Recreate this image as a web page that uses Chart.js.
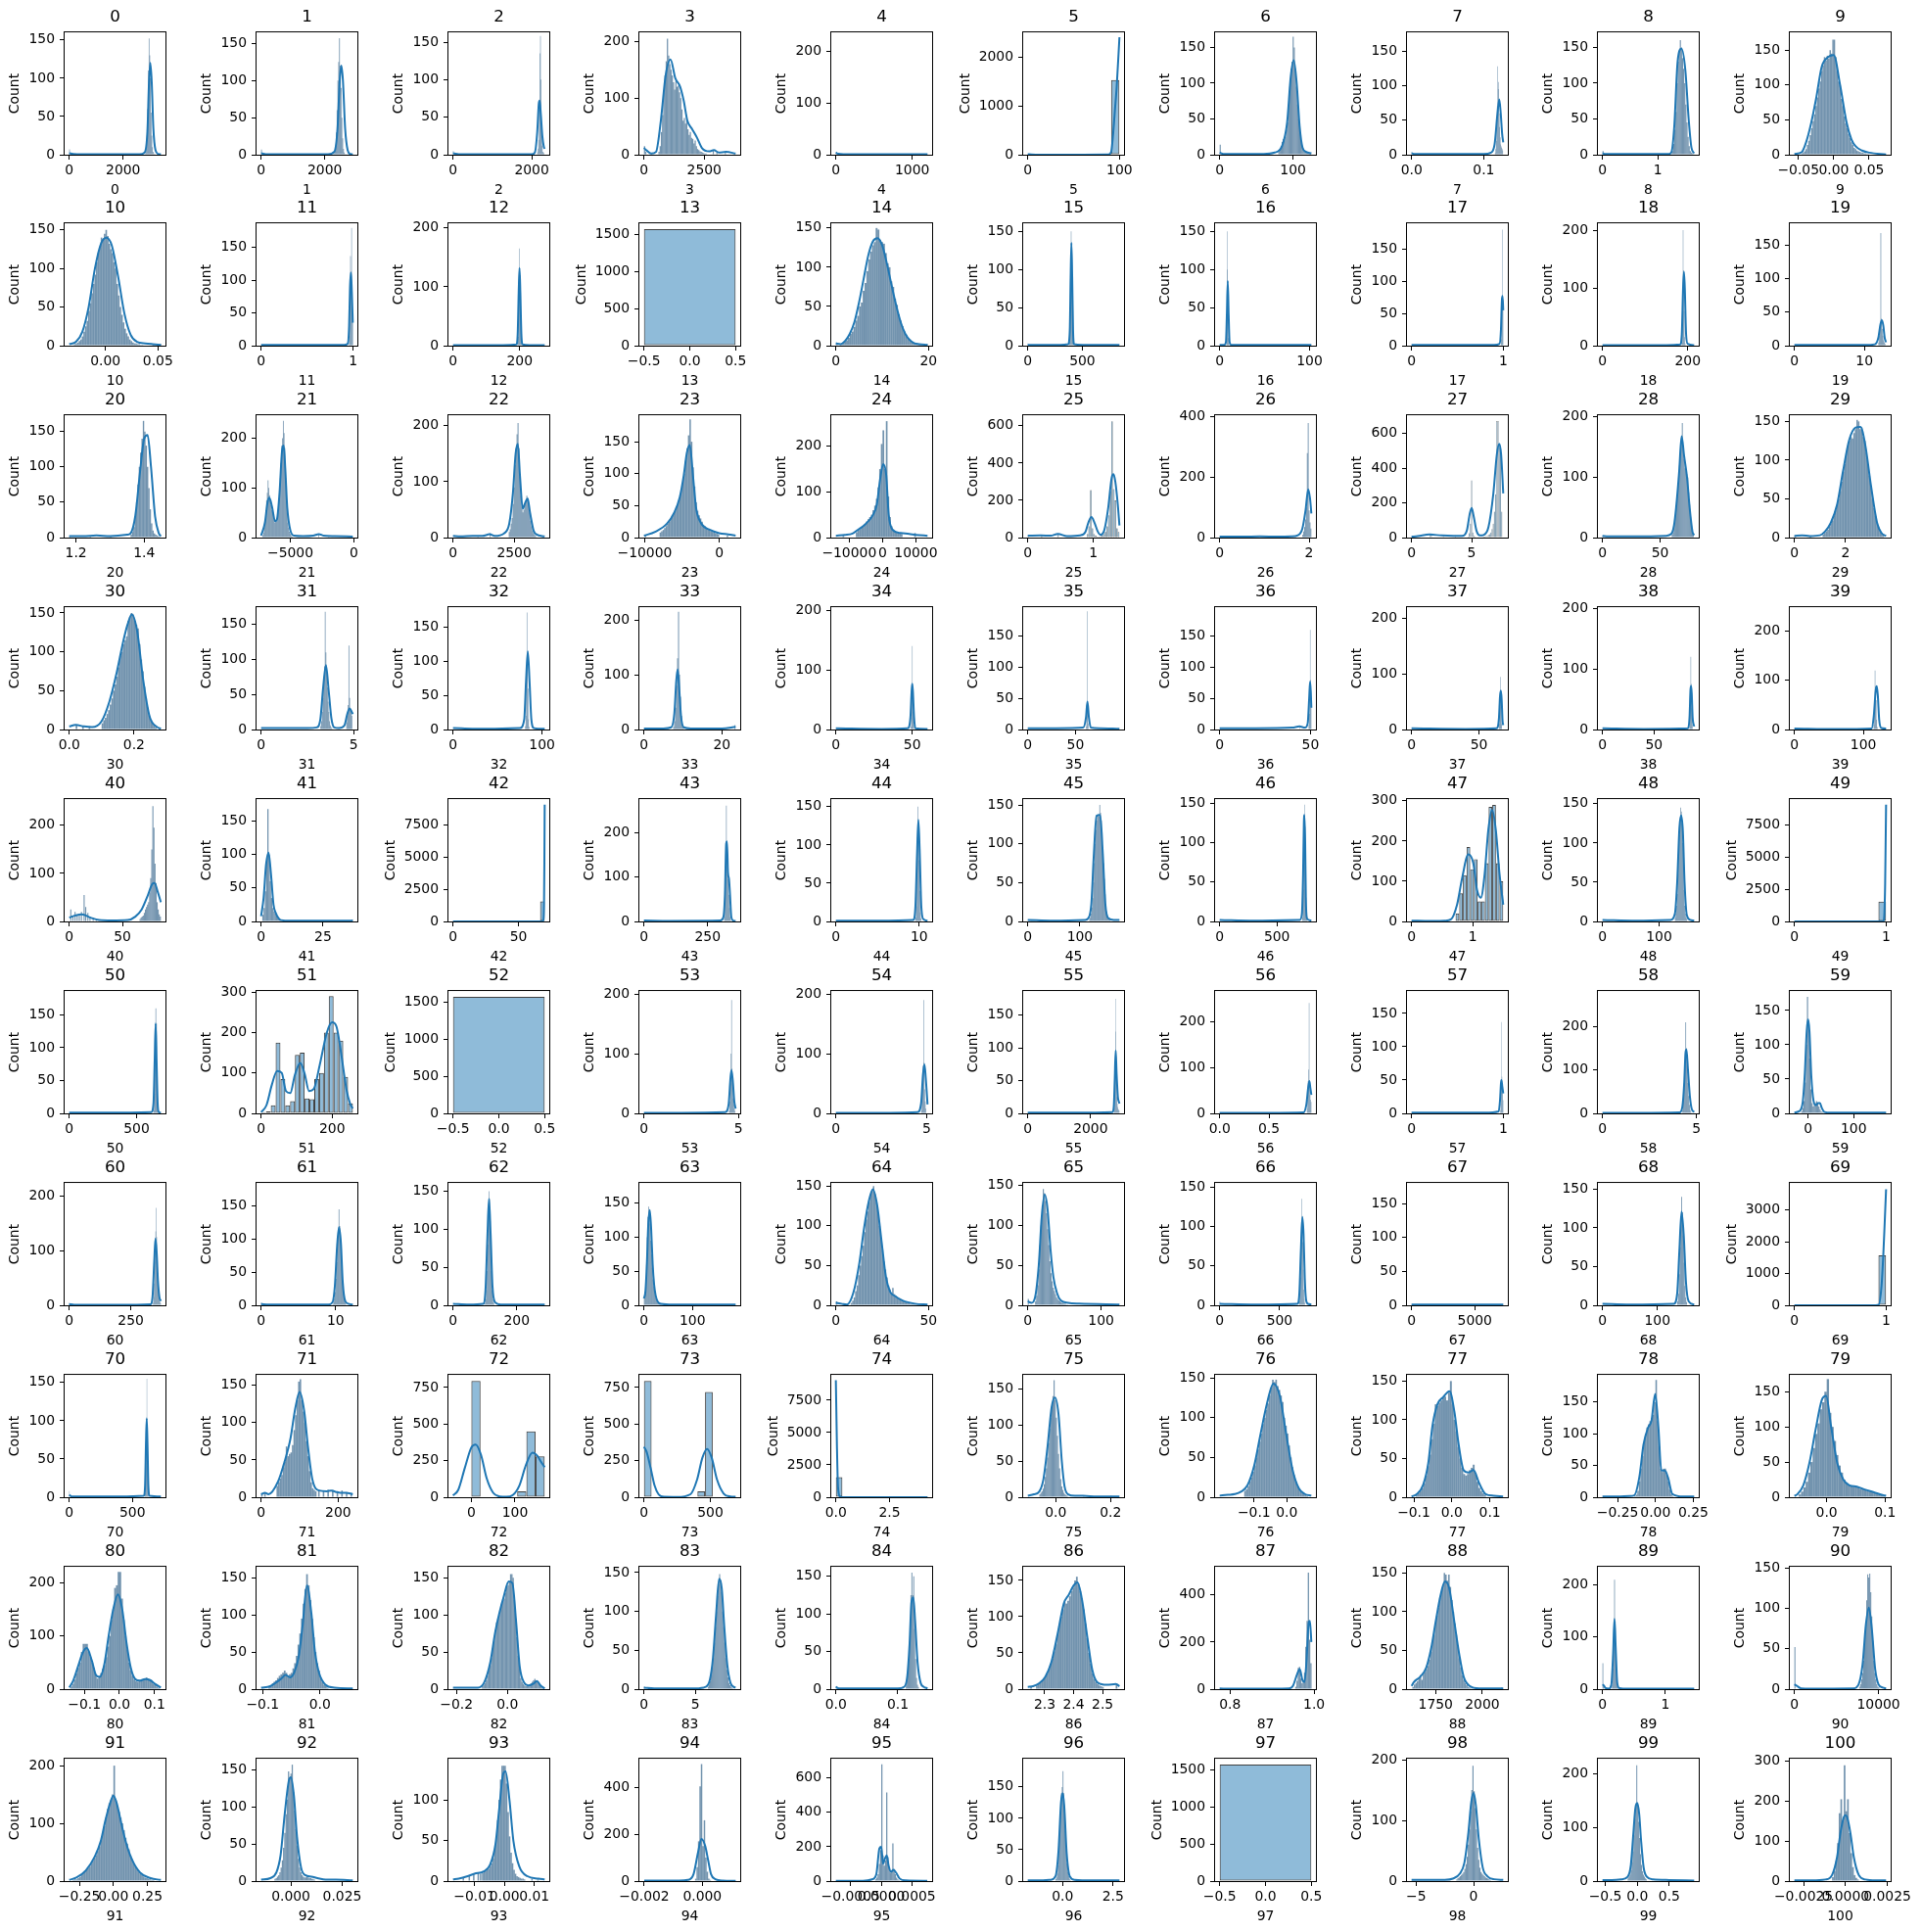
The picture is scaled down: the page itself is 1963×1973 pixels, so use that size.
<!DOCTYPE html>
<html>
<head>
<meta charset="utf-8">
<script src="https://cdn.jsdelivr.net/npm/chart.js@4.4.1/dist/chart.umd.min.js"></script>
<style>
  body { margin: 0; background: #fff; }
  #fig { position: relative; width: 1963px; height: 1973px; background: #fff; overflow: hidden; }
  #fig canvas { position: absolute; }
</style>
</head>
<body>
<div id="fig"></div>
<script>
// one histogram (+ kde) per column of the data frame; column 85 is absent
const titles = [0,1,2,3,4,5,6,7,8,9,10,11,12,13,14,15,16,17,18,19,20,21,22,23,24,25,26,27,28,29,
  30,31,32,33,34,35,36,37,38,39,40,41,42,43,44,45,46,47,48,49,50,51,52,53,54,55,56,57,58,59,
  60,61,62,63,64,65,66,67,68,69,70,71,72,73,74,75,76,77,78,79,80,81,82,83,84,86,87,88,89,90,
  91,92,93,94,95,96,97,98,99,100];

// data range of each column (kde is cut at these)
const lo = [0,0,0,0,0,0,0,0,0,-0.0556,
  -0.0345,0,0,-0.5,0,0,0,0,0,0,
  1.18,-7300,0,-10100,-14000,0,0,0,0,0,
  0,0,0,0,0,0,0,0,0,0,
  0,0,0,0,0,0,0,0,0,0,
  0,0,-0.5,0,0,0,0,0,0,-30,
  0,0,0,0,0,0,0,0,0,0,
  0,0,-42,0,0,-0.1023,-0.205,-0.106,-0.35,-0.0553,
  -0.1434,-0.1028,-0.2132,0,0,2.2416,0.7753,1621,0,0,
  -0.325,-0.0145,-0.0172,-0.002009,-0.00074,-1.73,-0.5,-5.39,-0.5435,-0.00305];
const hi = [3400,2880,2330,3800,1200,100,125,0.127,1.66,0.074,
  0.0528,0.995,275,0.5,19.8,840,102,1,215,13.1,
  1.449,-80,3750,2200,13500,1.4,2.05,7.63,79.5,3.58,
  0.283,4.95,103,23.5,60,96,50.5,68,89,133,
  86,37,70,360,11,176,800,1.5,162,1,
  680,258,0.5,4.85,5.05,2920,0.93,1,4.88,171,
  372,12.3,288,189,49.5,125,765,7250,167,1,
  725,238,168,690,4.27,0.2325,0.075,0.1354,0.256,0.1017,
  0.1184,0.0576,0.146,8.9,0.148,2.558,0.9935,2112,1.46,10900,
  0.349,0.0302,0.0135,0.001148,0.000755,2.82,0.5,2.58,0.89,0.00243];

const xTickLabels = [
  ['0','2000'],['0','2000'],['0','2000'],['0','2500'],['0','1000'],['0','100'],['0','100'],['0.0','0.1'],['0','1'],['−0.05','0.00','0.05'],
  ['0.00','0.05'],['0','1'],['0','200'],['−0.5','0.0','0.5'],['0','20'],['0','500'],['0','100'],['0','1'],['0','200'],['0','10'],
  ['1.2','1.4'],['−5000','0'],['0','2500'],['−10000','0'],['−10000','0','10000'],['0','1'],['0','2'],['0','5'],['0','50'],['0','2'],
  ['0.0','0.2'],['0','5'],['0','100'],['0','20'],['0','50'],['0','50'],['0','50'],['0','50'],['0','50'],['0','100'],
  ['0','50'],['0','25'],['0','50'],['0','250'],['0','10'],['0','100'],['0','500'],['0','1'],['0','100'],['0','1'],
  ['0','500'],['0','200'],['−0.5','0.0','0.5'],['0','5'],['0','5'],['0','2000'],['0.0','0.5'],['0','1'],['0','5'],['0','100'],
  ['0','250'],['0','10'],['0','200'],['0','100'],['0','50'],['0','100'],['0','500'],['0','5000'],['0','100'],['0','1'],
  ['0','500'],['0','200'],['0','100'],['0','500'],['0.0','2.5'],['0.0','0.2'],['−0.1','0.0'],['−0.1','0.0','0.1'],['−0.25','0.00','0.25'],['0.0','0.1'],
  ['−0.1','0.0','0.1'],['−0.1','0.0'],['−0.2','0.0'],['0','5'],['0.0','0.1'],['2.3','2.4','2.5'],['0.8','1.0'],['1750','2000'],['0','1'],['0','10000'],
  ['−0.25','0.00','0.25'],['0.000','0.025'],['−0.01','0.00','0.01'],['−0.002','0.000'],['−0.0005','0.0000','0.0005'],['0.0','2.5'],['−0.5','0.0','0.5'],['−5','0'],['−0.5','0.0','0.5'],['−0.0025','0.0000','0.0025']];

// top of the count axis
const yTop = [160,165,163,216,236,2520,171,177,171,175.5,
  158.5,187,208,1650,156,160.7,160.7,190,212,182.4,
  173,246,219,191.5,268,657,406,704,203,158,
  157.5,174.7,180,223.5,205.5,196.6,196.6,220.5,202,249,
  254.6,183,9479,275,160,157.6,155,304.5,156,9479,
  186.5,302.7,1650,205,205,187,266,183.6,282,178.5,
  223.6,185,161,179.8,154,152.7,155,180.4,158,3847,
  160,164,836,836,9464,169.4,154,158,193,174,
  229.7,164.9,164.9,157.5,162.8,168.7,520,158,235,151.4,
  212,165,150.6,523,712,195,1650,201.6,227.4,306.5];

const Y50 = ['0','50','100','150'];
const Y100 = ['0','100','200'];
const yTickLabels = [
  Y50,Y50,Y50,Y100,Y100,['0','1000','2000'],Y50,Y50,Y50,Y50,
  Y50,Y50,Y100,['0','500','1000','1500'],Y50,Y50,Y50,Y50,Y100,Y50,
  Y50,Y100,Y100,Y50,Y100,['0','200','400','600'],['0','200','400'],['0','200','400','600'],Y100,Y50,
  Y50,Y50,Y50,Y100,Y100,Y50,Y50,Y100,Y100,Y100,
  Y100,Y50,['0','2500','5000','7500'],Y100,Y50,Y50,Y50,['0','100','200','300'],Y50,['0','2500','5000','7500'],
  Y50,['0','100','200','300'],['0','500','1000','1500'],Y100,Y100,Y50,Y100,Y50,Y100,Y50,
  Y100,Y50,Y50,Y50,Y50,Y50,Y50,Y50,Y50,['0','1000','2000','3000'],
  Y50,Y50,['0','250','500','750'],['0','250','500','750'],['0','2500','5000','7500'],Y50,Y50,Y50,Y50,Y50,
  Y100,Y50,Y50,Y50,Y50,Y50,['0','200','400'],Y50,Y100,Y50,
  Y100,Y50,['0','50','100'],['0','200','400'],['0','200','400','600'],Y50,['0','500','1000','1500'],Y100,Y100,['0','100','200','300']];

// histogram bins: first edge, width, counts
const binStart = [2800,2250,2140,600,0,0,80,0.1155,1.24,-0.046,
  -0.03,0.955,193,-0.5,1,380,7.5,0.975,186,12.0,
  1.36,-7200,2280,-8000,-8000,0.9,1.85,4.65,60,1.1,
  0.1,3.2,81,7.5,49,61,49,64.9,84.5,115,
  66,0.5,0,315,9.55,118,720,0.72,128,0,
  625,0,-0.5,4.5,4.7,2750,0.885,0.968,4.25,-15,
  340,9.6,100,0,8,10,664,0,136,0,
  598,40,-42,0,0,-0.06,-0.13,-0.095,-0.14,-0.048,
  -0.14,-0.09,-0.1,6.2,0.113,2.27,0.955,1625,0.15,7700,
  -0.3,-0.008,-0.0075,-0.00025,-0.0001,-0.36,-0.5,-1.5,-0.15,-0.0008];
const binWidth = [25,25,15,50,12,9.09,1.5,0.0007,0.02,0.002,
  0.0015,0.006,1.5,1,0.4,5,0.5,0.005,1.2,0.1,
  0.004,60,40,200,500,0.025,0.02,0.1,0.8,0.06,
  0.005,0.04,0.6,0.25,0.3,0.5,0.25,0.35,0.5,0.8,
  1,0.5,3.5,2.5,0.07,1.5,4,0.06,1.2,0.0833,
  5,13.6,1,0.03,0.03,12,0.005,0.004,0.04,2.5,
  2,0.1,2,1.5,0.8,1.5,4,1,1.5,0.0833,
  3,4,21,57.5,0.305,0.004,0.005,0.005,0.01,0.004,
  0.005,0.003,0.005,0.1,0.0015,0.006,0.003,8,0.012,120,
  0.012,0.0006,0.0005,0.00005,0.00002,0.04,1,0.1,0.015,0.0001];
const binCounts = [
  [1,3,8,25,60,110,152,130,100,55,25,10,4,2,1,1],
  [1,2,5,12,30,60,100,125,157,120,90,50,22,8,3,1,1,0,1],
  [3,8,20,60,135,158,100,40,12,4,3,2],
  [5,15,40,70,110,140,165,205,175,160,150,140,128,115,130,120,122,110,100,80,60,65,55,70,45,35,40,30,28,20,25,15,10,8,6,5,4,3,2,2],
  [5],
  [20,0,0,0,0,0,0,0,0,2,1540],
  [5,8,12,18,22,20,25,35,45,70,95,120,130,165,150,120,95,70,50,30,20,12,8,6,5,4,4,3,2,2],
  [3,8,20,40,70,128,95,105,60,40,25,15,12,10,8,6],
  [2,5,15,35,60,100,130,145,160,150,135,120,100,70,45,25,12,5,3,2,1],
  [2,3,5,8,14,20,28,38,48,58,70,82,95,105,120,128,140,135,142,138,150,145,165,165,140,120,105,100,80,70,55,45,38,30,24,18,14,10,8,6,5,4,3,3,2,2,1,1],
  // 10
  [2,3,4,6,8,12,18,25,32,45,55,68,80,92,108,120,128,140,138,145,150,142,132,125,120,108,100,80,65,50,40,30,22,16,12,8,6,4,3,3,2,2,1,1],
  [15,60,137,112,180,60,35],
  [3,15,50,130,165,120,45,12,3],
  [1571],
  [2,3,5,7,10,15,18,24,32,38,50,55,70,80,95,110,120,128,132,150,148,135,132,130,118,105,100,82,75,60,52,40,32,25,18,14,10,8,6,4,3,2,2,1],
  [5,25,80,150,130,70,20,5],
  [10,150,100,50,10,3],
  [10,40,75,180,60],
  [5,40,200,130,60,15,4],
  [5,15,30,168,40,25,15,8,5,3],
  // 20
  [4,8,15,30,50,75,100,120,140,165,150,130,100,70,40,20,10,6,4,3,2,1],
  [5,10,20,35,55,75,90,115,100,85,75,65,55,48,40,35,30,35,32,40,50,60,90,120,150,185,200,235,210,180,120,80,50,30,20,12,8,5,3,2],
  [10,15,25,35,60,90,130,160,185,205,160,110,75,55,45,50,60,65,75,70,60,45,30,20,12,8,5,3],
  [8,10,12,15,18,22,25,30,35,38,42,48,55,62,75,85,100,120,140,160,185,150,110,80,55,42,35,30,25,20,18,15,13,12,10,9,8,7,6,5],
  [12,15,18,22,25,30,35,40,45,50,60,70,85,110,150,205,235,150,255,90,45,25,18,14,12,10,9,8],
  [20,60,255,50,20,10,5,5,8,12,20,30,60,120,250,625,260,200,50,30],
  [10,20,35,60,100,280,380,90,50,30],
  [5,25,80,330,30,10,5,3,2,2,3,3,4,5,6,8,10,15,20,30,50,80,150,250,670,670,520,505,150],
  [5,8,15,25,40,55,80,100,120,140,165,190,150,130,115,110,105,100,75,55,35,20,10,5],
  [4,6,8,10,14,18,22,28,35,42,50,60,72,85,95,110,118,125,130,128,135,140,152,150,140,142,130,125,110,95,80,65,50,38,28,20,14,9,6,4],
  // 30
  [8,12,15,20,25,32,40,50,58,68,80,95,100,110,115,120,140,145,150,148,140,135,130,110,90,75,55,40,28,18,12,8,5,3],
  [5,12,25,45,70,90,168,110,85,60,40,25,12,6,3,2,0,0,0,0,0,0,0,0,0,0,0,0,0,0,0,0,0,0,0,10,20,35,120,45,30,25,20],
  [5,20,60,172,110,60,15,4],
  [5,15,40,80,130,215,100,60,25,10,5],
  [5,20,50,140,70,30,8],
  [5,40,190,45,10],
  [8,25,60,160,80,40],
  [10,40,95,70,40,10],
  [10,50,120,75,35,8],
  [10,40,120,88,60,20,5],
  // 40
  [5,8,10,12,18,25,30,35,40,60,90,150,240,195,120,80,40,25,15,10],
  [10,20,45,90,168,100,60,35,20,15,12,8,5,3,2,1],
  [5,0,0,0,0,0,0,0,0,0,0,0,0,0,0,0,0,0,0,1550],
  [10,40,120,260,180,105,95,60,30,10,3],
  [5,20,60,110,150,120,80,40,12,4],
  [3,5,10,18,30,50,75,100,118,130,135,138,135,150,140,130,115,95,75,55,35,22,12,7,4,3,2],
  [5,15,40,80,125,148,120,70,30,10,4],
  [20,70,115,185,130,155,50,50,145,285,290,145,100],
  [5,10,20,35,60,85,110,130,145,140,125,100,70,40,20,10,5,3],
  [20,0,0,0,0,0,0,0,0,0,0,1540],
  // 50
  [5,30,100,160,137,60,15,4],
  [3,5,20,175,85,20,30,145,150,37,35,85,100,200,290,200,180,90,25],
  [1571],
  [5,20,50,100,190,75,50,25,15,8,4],
  [5,20,45,80,190,85,40,20,8],
  [8,25,60,175,125,96,40,25,15,10,8,6,5,4],
  [10,30,70,95,240,60,40,30,25],
  [5,15,50,137,55,40,30,20],
  [8,30,70,120,210,150,110,70,40,20,8,3],
  [3,8,18,45,100,170,135,80,35,15,10,12,15,18,14,10,6,3,2,1],
  // 60
  [5,15,40,80,110,135,178,125,95,60,40,25,15,10,6,4],
  [2,5,10,20,40,65,85,105,145,120,100,80,55,35,20,10,5,3],
  [3,8,20,45,80,120,150,140,110,75,45,20,8,4,2],
  [10,20,35,60,100,130,145,140,120,95,75,55,38,28,20,14,10,8,6,5,4,3,2,2],
  [3,6,10,18,25,38,50,62,75,92,108,118,130,140,145,150,140,130,115,100,85,70,55,45,35,25,20,16,22,14,12,10,8,7,6,5,4,4,3,3,2,2,2,1,1,1,1],
  [5,12,25,45,75,100,125,145,140,130,115,95,75,55,40,30,22,18,14,10,8,6,5,4,3,3,2,2,1,1],
  [5,15,35,70,105,135,110,80,45,20,8,3],
  [],
  [5,15,40,75,110,140,120,90,55,25,10,4],
  [5,0,0,0,0,0,0,0,0,0,0,1570],
  // 70
  [5,15,40,75,100,155,90,45,15,5],
  [15,20,25,30,40,48,68,55,58,60,70,90,110,130,155,158,130,115,100,75,55,35,20,12,10,8],
  [0,0,795,0,0,0,0,40,450,280],
  [795,0,0,0,0,0,0,40,720],
  [1550,5,2],
  [4,6,8,12,18,28,40,55,75,95,110,125,140,162,135,110,85,60,40,25,15,10,6,4,3,2],
  [8,10,14,20,25,32,40,50,60,70,80,92,100,110,118,128,138,148,145,148,140,135,128,120,100,90,80,65,50,38,28,20,14,10,7,5,4,3,2],
  [3,5,8,12,18,28,40,55,75,95,120,118,122,125,128,130,125,135,150,120,100,85,65,50,38,30,28,30,35,38,42,30,20,12,8,5,3],
  [2,4,10,25,45,65,85,100,110,115,120,125,130,150,185,120,80,45,40,45,45,35,25,12,5,2],
  [4,8,14,22,35,50,70,90,105,125,135,150,168,120,100,80,60,45,35,25,20,18,16,15,15,14,12,12,10,9,8,7,6,5,4,3,2],
  // 80
  [5,10,18,30,40,50,70,85,85,85,70,60,50,40,28,20,25,30,38,45,60,80,100,130,150,190,195,220,220,170,130,100,75,50,35,25,18,15,14,15,16,18,20,22,20,18,15,10,8,5,3],
  [3,5,8,10,12,15,18,20,22,25,22,18,20,22,28,35,45,60,75,95,115,135,155,140,120,95,70,50,35,25,15,10,6,4,2],
  [4,6,8,12,18,25,32,42,55,65,80,90,95,100,108,115,120,122,130,138,140,145,155,155,150,120,95,70,45,28,15,10,7,5,4,4,5,6,8,10,12,14,12,10,8,6,4,2],
  [3,6,10,18,28,40,60,80,100,120,135,148,140,125,100,80,60,40,25,15,8,5,3,2,1],
  [5,12,30,55,85,125,155,125,150,80,40,15,6,3],
  [5,7,9,12,15,18,22,28,35,42,52,62,75,88,100,110,120,118,122,128,135,140,150,155,145,135,125,110,90,70,50,35,22,14,10,7,5,4,3],
  [10,35,90,95,45,25,30,70,180,290,495,210,110],
  [3,6,8,10,14,18,12,20,22,26,30,38,48,62,70,85,95,105,118,125,135,150,148,140,148,132,115,100,85,70,55,40,28,18,12,8,5,3,2,1],
  [8,40,100,210,130,60,20,6,2],
  [3,6,12,20,35,55,80,110,142,138,143,120,90,60,35,20,12,6,3,2],
  // 91
  [2,3,3,5,7,10,14,18,20,22,25,30,35,40,45,52,60,70,85,95,110,125,135,140,150,200,140,130,120,110,100,88,75,65,55,45,38,30,25,20,16,13,10,8,6,5,4,3,2,2],
  [3,4,6,8,12,18,28,45,65,90,110,148,140,145,157,120,95,70,48,30,18,12,8,6,5,5,6,5,4,4,3,3,2],
  [10,12,12,14,15,18,22,28,38,55,75,100,125,142,142,142,120,85,55,35,22,14,9,6,5,4,3,3,2],
  [10,60,170,405,500,150,260,100,40,10,5],
  [10,20,40,100,180,680,150,90,120,515,140,80,50,60,220,70,40,20,10,5],
  [3,6,12,25,45,75,110,140,150,175,140,115,80,50,28,15,8,4,2],
  [1571],
  [3,5,6,8,10,12,15,20,28,40,60,85,115,150,190,148,120,85,55,35,22,15,12,10,8,6,5,4,3,2],
  [5,8,12,20,35,55,85,115,140,215,140,110,80,50,30,18,12,8,5,3],
  [10,25,50,95,170,205,150,290,175,205,120,70,35,15,8,4]];

// isolated bins away from the main block: [first edge, count]
const extraBins = [
  [[0,7]],[[0,7]],[[0,5]],[[0,15],[50,5],[2850,8],[3000,4],[3350,5]],[],[],[[0,14]],[[0,4]],[[0,5]],[],
  [[0.045,2],[0.052,2]],[],[],[],[[0,3],[19.5,2]],[[0,3]],[],[],[],[],
  [[1.18,2],[1.24,2],[1.3,2]],[[-2800,8],[-2000,3],[-500,2]],[[1500,8],[1000,3]],[[-10000,3],[1000,3]],[[9500,10],[-12000,5]],[[0.45,20],[0,10],[0.2,12]],[[1.1,5],[0.4,3]],[[1.5,20],[1.6,15],[2.6,12],[3.6,12],[0.1,5]],[[0,3]],[[0,3],[0.6,2]],
  [[0.02,6],[0.04,5],[0.06,4]],[],[],[[23.2,8]],[],[],[[44,5]],[],[],[],
  [[1,25],[3,10],[5,20],[7,15],[9,12],[11,20],[13.5,55],[15,30],[17,18],[19,10],[22,8],[25,5]],[[36.5,3]],[],[],[],[],[],[],[],[],
  [],[],[],[],[],[],[],[],[],[],
  [[0,5]],[[0,4]],[],[],[[0,5]],[[0,8]],[[0,5]],[],[],[],
  [[0,8]],[[0,5],[8,6],[148,10],[160,8],[172,10],[184,10],[196,8],[208,9],[220,7],[232,5]],[],[],[[3.965,1]],[[0.2,2],[0.1,2]],[],[],[],[],
  [],[],[],[[0,3]],[[0,4]],[[2.545,8],[2.25,4]],[],[[2100,2]],[[0,50],[0.012,5]],[[0,52]],
  [],[],[[-0.014,4],[-0.012,6],[-0.0105,8],[-0.009,10],[-0.0082,9],[0.009,3],[0.011,2]],[],[],[],[],[],[],[]];

// kde curves: [x, count]
const kdePoints = [
  [[0,2],[150,1],[500,0.5],[2600,0.5],[2800,3],[2900,30],[2960,95],[3010,120],[3060,95],[3120,35],[3200,6],[3300,1],[3400,0.5]],
  [[0,2],[200,0.5],[2100,0.5],[2300,4],[2400,35],[2470,100],[2520,120],[2570,100],[2640,35],[2720,6],[2800,1],[2880,0.5]],
  [[0,2],[200,0.5],[2000,0.5],[2080,3],[2140,30],[2180,68],[2200,72],[2230,55],[2270,25],[2310,10],[2330,8]],
  [[0,12],[100,8],[300,2],[500,5],[700,60],[900,140],[1100,168],[1300,135],[1500,120],[1650,95],[1800,60],[2000,45],[2200,30],[2400,12],[2700,6],[2900,8],[3100,4],[3400,5],[3800,2]],
  [[0,4],[30,2],[100,1],[1200,1]],
  [[0,12],[4,6],[15,2],[60,1],[88,5],[91,60],[93,400],[95,900],[97,1400],[100,2420]],
  [[0,3],[5,1],[60,1],[75,3],[85,12],[92,45],[97,110],[101,132],[105,100],[109,40],[113,10],[118,4],[125,2]],
  [[0,2],[0.005,1],[0.1,1],[0.11,3],[0.115,15],[0.119,60],[0.1215,80],[0.1235,60],[0.1255,30],[0.127,18]],
  [[0,2],[0.05,1],[1.2,1],[1.25,4],[1.3,40],[1.36,130],[1.43,148],[1.5,118],[1.56,50],[1.61,10],[1.66,2]],
  [[-0.0556,1],[-0.045,4],[-0.039,18],[-0.032,45],[-0.025,80],[-0.017,126],[-0.008,140],[0,143],[0.009,100],[0.018,47],[0.025,22],[0.031,12],[0.04,6],[0.05,3],[0.074,0.5]],
  // 10
  [[-0.0345,2],[-0.028,5],[-0.022,18],[-0.016,50],[-0.01,100],[-0.004,133],[0.001,140],[0.006,130],[0.012,90],[0.018,42],[0.024,14],[0.03,5],[0.038,3],[0.045,2],[0.0528,1]],
  [[0,1],[0.9,1],[0.94,3],[0.955,30],[0.965,90],[0.975,112],[0.985,80],[0.995,35]],
  [[0,1],[150,1],[190,2],[194,20],[197,90],[199.5,132],[202,90],[205,20],[209,2],[230,1],[275,1]],
  [],
  [[0,3],[1,2],[2,6],[3,15],[4,30],[5,55],[6,85],[7,115],[8,133],[9,137],[10,128],[11,105],[12,78],[13,52],[14,30],[15,15],[16,7],[17,3],[18,2],[19.8,1]],
  [[0,1],[300,1],[370,2],[385,20],[393,90],[400,135],[407,90],[415,20],[425,2],[500,1],[840,1]],
  [[0,1],[5,1],[7,5],[8,40],[9,85],[10,40],[11,5],[13,1],[102,1]],
  [[0,1],[0.9,1],[0.96,3],[0.975,25],[0.985,70],[0.992,77],[1.0,55]],
  [[0,1],[150,1],[182,2],[186,20],[189,100],[191,128],[193,100],[196,20],[200,3],[215,1]],
  [[0,1],[10,1],[11.5,2],[12.0,12],[12.3,32],[12.5,38],[12.7,30],[12.9,12],[13.1,5]],
  // 20
  [[1.18,2],[1.22,2],[1.26,3],[1.3,2],[1.35,4],[1.36,6],[1.374,31],[1.388,94],[1.4,140],[1.41,145],[1.42,100],[1.432,30],[1.443,6],[1.449,2]],
  [[-7300,4],[-7000,30],[-6800,70],[-6650,80],[-6450,63],[-6200,33],[-6050,37],[-5850,90],[-5650,175],[-5520,185],[-5400,140],[-5240,60],[-5000,15],[-4700,4],[-4000,3],[-3200,4],[-2750,7],[-2400,4],[-1500,3],[-80,2]],
  [[0,3],[300,2],[800,3],[1200,3],[1500,6],[1700,3],[2100,8],[2300,25],[2450,80],[2560,150],[2650,168],[2740,110],[2850,52],[2950,62],[3050,70],[3150,45],[3300,12],[3450,5],[3600,3],[3750,2]],
  [[-10100,3],[-8600,9],[-7000,22],[-6000,40],[-5300,63],[-4750,98],[-4340,133],[-3950,145],[-3530,98],[-3100,46],[-2460,23],[-1230,12],[0,7],[1200,5],[2200,3]],
  [[-14000,4],[-11300,6],[-9000,9],[-7600,16],[-6000,24],[-4800,32],[-3000,48],[-1700,73],[-700,129],[200,161],[1100,137],[1850,50],[3150,16],[5400,10],[8000,8],[10000,6],[13500,4]],
  [[0,10],[0.2,12],[0.35,10],[0.46,20],[0.6,8],[0.8,12],[0.88,30],[0.925,80],[0.972,110],[1.019,80],[1.066,35],[1.112,15],[1.169,40],[1.225,150],[1.281,320],[1.309,340],[1.337,300],[1.374,180],[1.4,65]],
  [[0,3],[0.5,3],[0.9,4],[1.3,3],[1.6,4],[1.75,8],[1.85,30],[1.92,90],[1.98,160],[2.02,130],[2.05,80]],
  [[0,5],[0.5,8],[1.5,18],[2.5,12],[3.5,10],[4.2,10],[4.6,40],[4.85,140],[5.0,170],[5.15,130],[5.4,40],[5.7,12],[6.0,15],[6.4,60],[6.8,250],[7.1,480],[7.3,540],[7.45,480],[7.63,254]],
  [[0,3],[5,2],[30,2],[55,3],[59.6,6],[62,20],[63.8,49],[66.5,110],[68.6,168],[70.8,135],[73.4,98],[75.6,49],[78,10],[79.5,4]],
  [[0,2],[0.3,3],[0.6,2],[1.0,3],[1.2,8],[1.42,19],[1.67,43],[1.9,86],[2.14,126],[2.39,142],[2.58,143],[2.77,119],[2.99,67],[3.23,19],[3.4,6],[3.58,2]],
  // 30
  [[0,4],[0.02,6],[0.045,4],[0.0706,3],[0.099,10],[0.124,36],[0.147,74],[0.166,112],[0.18,135],[0.193,148],[0.21,126],[0.228,65],[0.248,17],[0.272,3],[0.283,1]],
  [[0,2],[1,2],[2.5,2],[3.0,3],[3.2,15],[3.35,60],[3.5,92],[3.65,55],[3.8,15],[3.95,3],[4.2,2],[4.5,6],[4.65,22],[4.78,30],[4.88,26],[4.95,22]],
  [[0,2],[40,1],[75,2],[80,15],[82,70],[84,115],[86,70],[88,15],[91,2],[103,1]],
  [[0,2],[5,2],[7,4],[7.8,30],[8.3,90],[8.65,110],[9.0,80],[9.5,25],[10.2,4],[12,2],[20,2],[23.5,5]],
  [[0,2],[30,1],[47,2],[48.8,20],[49.6,65],[50,77],[50.4,65],[51.2,20],[52,2],[60,1]],
  [[0,2],[30,2],[58,3],[61,20],[62.5,45],[64,20],[66,3],[75,2],[96,1]],
  [[0,2],[20,2],[40,3],[44,5],[47,3],[48.5,10],[49.3,50],[49.8,77],[50.2,60],[50.5,35]],
  [[0,2],[40,1],[63,2],[64.8,20],[65.6,60],[66.2,70],[66.8,55],[67.5,15],[68,8]],
  [[0,2],[40,1],[83,2],[84.5,20],[85.4,65],[86,72],[86.6,60],[87.5,20],[89,5]],
  [[0,2],[60,1],[112,2],[115,25],[118,80],[119.5,88],[121,70],[123,20],[126,3],[133,2]],
  // 40
  [[0,8],[5,12],[12,15],[20,8],[28,3],[40,2],[55,3],[62,10],[68,25],[73,50],[78,78],[80,80],[83,62],[86,40]],
  [[0,8],[1,35],[2,85],[3,103],[4,70],[5,25],[6,12],[7,5],[8,2],[12,1],[37,1]],
  [[0,2],[60,2],[68.5,5],[69.2,300],[69.5,1500],[69.75,4500],[70,9050]],
  [[0,2],[100,1],[300,2],[312,10],[318,60],[323,175],[326,180],[330,110],[334,95],[338,60],[343,10],[350,2],[360,1]],
  [[0,1],[5,1],[9.3,2],[9.55,20],[9.75,90],[9.9,133],[10.05,95],[10.25,20],[10.5,3],[11,1]],
  [[0,2],[50,1],[110,2],[116,4],[122,22],[127,88],[132,136],[139,137],[144,88],[149,22],[155,4],[165,2],[176,2]],
  [[0,2],[300,1],[700,2],[718,10],[728,60],[735,125],[740,135],[746,100],[752,30],[760,5],[775,2],[800,1]],
  [[0,2],[0.3,1],[0.55,2],[0.643,5],[0.745,42],[0.826,107],[0.929,167],[1.01,145],[1.07,79],[1.134,59],[1.195,117],[1.256,228],[1.317,277],[1.378,228],[1.44,117],[1.5,42]],
  [[0,2],[60,1],[120,2],[128,10],[132,50],[136,120],[139,135],[142,115],[145,50],[149,8],[155,2],[162,1]],
  [[0,5],[0.05,2],[0.9,2],[0.97,5],[0.98,400],[0.99,3000],[0.995,6000],[1.0,9050]],
  // 50
  [[0,1],[300,1],[610,2],[625,15],[634,80],[641,137],[648,80],[656,15],[665,2],[680,1]],
  [[0,3],[15,20],[30,70],[45,105],[58,100],[70,55],[82,50],[95,95],[110,125],[122,100],[135,55],[148,60],[165,120],[185,200],[200,225],[212,215],[225,150],[240,60],[250,25],[258,12]],
  [],
  [[0,1],[2,1],[4.3,2],[4.48,15],[4.58,60],[4.63,72],[4.7,55],[4.78,20],[4.85,8]],
  [[0,1],[3,1],[4.5,2],[4.7,18],[4.8,65],[4.88,82],[4.95,60],[5.05,15]],
  [[0,1],[1500,1],[2700,2],[2740,10],[2770,50],[2800,96],[2830,60],[2870,25],[2900,18],[2920,15]],
  [[0,1],[0.5,1],[0.85,2],[0.88,20],[0.9,60],[0.91,70],[0.92,55],[0.93,40]],
  [[0,1],[0.8,1],[0.95,3],[0.965,20],[0.975,45],[0.98,50],[0.99,40],[1.0,30]],
  [[0,1],[2,1],[4.1,2],[4.25,15],[4.35,70],[4.42,140],[4.47,147],[4.55,100],[4.65,40],[4.75,10],[4.88,3]],
  [[-30,1],[-20,3],[-12,15],[-7,60],[-3,120],[0,137],[3,120],[7,55],[12,18],[17,12],[22,15],[26,15],[30,8],[36,2],[50,1],[100,1],[171,1]],
  // 60
  [[0,2],[20,1],[200,1],[330,2],[338,15],[345,80],[350,122],[355,95],[360,45],[366,15],[372,8]],
  [[0,2],[1,1],[9,1],[9.6,5],[9.9,30],[10.2,90],[10.45,118],[10.7,95],[10.95,35],[11.3,6],[11.8,2],[12.3,1]],
  [[0,2],[50,1],[95,2],[102,20],[108,90],[113,140],[118,95],[124,25],[132,4],[150,1],[288,1]],
  [[0,10],[3,20],[6,60],[9,120],[12,140],[15,110],[18,60],[21,30],[24,15],[28,6],[35,2],[60,1],[189,1]],
  [[0,3],[3,2],[6,1],[9.35,15],[12.6,52],[15.3,98],[17.7,130],[20,146],[22.3,126],[24.7,80],[27,36],[29.3,17],[31.7,12],[36,6],[42.7,2],[49.5,1]],
  [[0,5],[5,3],[10,10],[15,50],[19,110],[23,138],[27,120],[31,70],[35,35],[40,15],[45,6],[55,3],[70,2],[125,1]],
  [[0,2],[300,1],[650,2],[665,15],[678,70],[690,112],[700,90],[710,35],[720,8],[735,2],[765,1]],
  [[0,1],[7250,1]],
  [[0,2],[50,1],[130,2],[136,15],[140,70],[144,121],[148,90],[152,30],[157,5],[167,1]],
  [[0,3],[0.05,1],[0.85,2],[0.92,20],[0.95,600],[0.97,1600],[0.985,2600],[1.0,3650]],
  // 70
  [[0,3],[20,1],[400,1],[590,2],[600,15],[607,70],[613,103],[619,70],[626,15],[635,2],[725,1]],
  [[0,4],[10,6],[19,4],[44,21],[60,46],[76,78],[89,120],[100,141],[112,115],[122,66],[133,24],[150,9],[170,8],[182,9],[195,7],[206,6],[220,6],[238,4]],
  [[-42,12],[-30,50],[-15,200],[0,340],[10,360],[22,290],[35,130],[50,30],[65,5],[80,3],[95,15],[110,80],[125,220],[140,305],[152,280],[160,240],[168,205]],
  [[0,345],[20,310],[50,200],[80,80],[110,20],[150,3],[250,2],[350,20],[400,120],[440,270],[475,330],[510,270],[550,120],[600,25],[650,5],[690,3]],
  [[0,9050],[0.05,4000],[0.1,800],[0.2,50],[0.4,2],[4.27,1]],
  [[-0.102,2],[-0.08,4],[-0.06,8],[-0.045,25],[-0.03,70],[-0.015,125],[-0.003,138],[0.01,115],[0.022,50],[0.032,15],[0.045,4],[0.07,2],[0.1,2],[0.15,1],[0.2325,1]],
  [[-0.205,2],[-0.18,3],[-0.159,4],[-0.14,7],[-0.12,15],[-0.1,39],[-0.08,80],[-0.061,117],[-0.041,143],[-0.021,127],[-0.002,80],[0.018,34],[0.037,11],[0.055,4],[0.075,2]],
  [[-0.106,1],[-0.092,4],[-0.0755,16],[-0.062,44],[-0.051,92],[-0.038,120],[-0.023,129],[-0.006,137],[0.0066,111],[0.018,68],[0.031,35],[0.044,32],[0.057,35],[0.072,18],[0.089,4],[0.11,2],[0.135,1]],
  [[-0.35,1],[-0.25,1],[-0.17,2],[-0.14,3],[-0.107,31],[-0.079,83],[-0.05,109],[-0.026,121],[-0.002,163],[0.019,112],[0.039,42],[0.063,42],[0.083,31],[0.112,5],[0.185,1],[0.256,1]],
  [[-0.0553,2],[-0.0506,4],[-0.04,17],[-0.0295,49],[-0.019,96],[-0.0085,138],[-0.001,144],[0.0075,101],[0.018,49],[0.0285,25],[0.039,17],[0.0517,15],[0.065,11],[0.081,7],[0.097,3],[0.1017,2]],
  // 80
  [[-0.1434,3],[-0.132,16],[-0.118,43],[-0.105,68],[-0.093,77],[-0.079,54],[-0.0665,26],[-0.056,23],[-0.043,47],[-0.031,99],[-0.0185,147],[-0.0045,178],[0.008,150],[0.02,88],[0.0325,40],[0.045,19],[0.059,16],[0.073,19],[0.0875,17],[0.1015,10],[0.1184,3]],
  [[-0.1028,2],[-0.087,4],[-0.0764,9],[-0.0678,14],[-0.0602,19],[-0.0517,16],[-0.0441,24],[-0.0365,46],[-0.0302,86],[-0.0226,140],[-0.015,103],[-0.0087,51],[-0.0011,21],[0.0097,6],[0.0257,2],[0.0576,1]],
  [[-0.2132,2],[-0.18,2],[-0.14,2],[-0.1155,2],[-0.091,9],[-0.0673,36],[-0.0483,76],[-0.0313,103],[-0.0143,125],[0.0051,145],[0.0192,143],[0.034,91],[0.048,31],[0.065,9],[0.082,5],[0.101,7],[0.1156,11],[0.13,5],[0.146,1]],
  [[0,2],[1,1],[5,1],[6,3],[6.4,12],[6.7,40],[7.0,95],[7.3,142],[7.55,130],[7.8,80],[8.1,30],[8.4,8],[8.7,3],[8.9,2]],
  [[0,3],[0.005,1],[0.1,1],[0.11,3],[0.115,15],[0.119,60],[0.122,115],[0.125,122],[0.128,90],[0.132,35],[0.137,8],[0.142,3],[0.148,1]],
  [[2.2416,3],[2.26,4],[2.281,8],[2.302,17],[2.323,37],[2.345,77],[2.366,118],[2.383,130],[2.4,143],[2.413,147],[2.429,123],[2.447,72],[2.464,27],[2.483,9],[2.515,6],[2.546,7],[2.558,4]],
  [[0.7753,3],[0.8,2],[0.9,2],[0.94,3],[0.95,15],[0.96,65],[0.966,85],[0.972,40],[0.977,30],[0.982,120],[0.987,280],[0.99,290],[0.9935,200]],
  [[1621,4],[1633,9],[1667,16],[1700,28],[1727,54],[1750,87],[1777,122],[1800,139],[1823,130],[1850,87],[1877,44],[1900,16],[1933,4],[1983,1],[2112,1]],
  [[0,9],[0.02,7],[0.05,2],[0.1,1],[0.14,8],[0.17,70],[0.19,135],[0.21,80],[0.235,12],[0.27,2],[0.4,1],[1.46,1]],
  [[0,6],[300,4],[800,1],[2000,0.5],[7000,1],[7600,5],[8100,30],[8500,80],[8850,101],[9200,75],[9600,25],[10000,6],[10500,2],[10900,1]],
  // 91
  [[-0.325,2],[-0.272,6],[-0.204,18],[-0.136,43],[-0.091,71],[-0.059,105],[-0.023,136],[0,148],[0.023,136],[0.059,99],[0.091,68],[0.137,37],[0.195,15],[0.273,5],[0.349,2]],
  [[-0.0145,2],[-0.01,4],[-0.007,12],[-0.005,35],[-0.003,90],[-0.001,135],[0,140],[0.0015,115],[0.003,60],[0.005,18],[0.007,8],[0.01,6],[0.013,4],[0.017,2],[0.022,2],[0.0302,1]],
  [[-0.0172,2],[-0.0153,3],[-0.0123,6],[-0.01,9],[-0.0069,12],[-0.0048,20],[-0.003,45],[-0.0017,90],[-0.0004,132],[0.0004,135],[0.0017,100],[0.003,50],[0.005,18],[0.0077,6],[0.0114,3],[0.0135,2]],
  [[-0.002,2],[-0.0008,2],[-0.0005,5],[-0.0003,30],[-0.00015,120],[-0.00003,180],[0.0001,150],[0.0002,90],[0.0003,30],[0.00045,8],[0.0007,2],[0.00115,1]],
  [[-0.00074,2],[-0.0003,2],[-0.00015,10],[-0.00008,40],[-0.00003,190],[0.0,200],[0.00003,100],[0.00006,130],[0.00009,150],[0.00012,90],[0.00016,55],[0.0002,65],[0.00024,50],[0.0003,15],[0.0004,4],[0.00075,2]],
  [[-1.73,1],[-1.2,1],[-0.6,2],[-0.35,8],[-0.2,50],[-0.08,125],[0,140],[0.08,120],[0.2,45],[0.35,8],[0.6,2],[1.5,1],[2.82,1]],
  [],
  [[-5.39,2],[-4,2],[-2.5,2],[-1.8,4],[-1.2,12],[-0.8,30],[-0.45,80],[-0.2,130],[0,145],[0.2,125],[0.45,70],[0.8,22],[1.2,8],[1.8,3],[2.58,2]],
  [[-0.5435,2],[-0.4,2],[-0.25,3],[-0.15,8],[-0.1,30],[-0.06,90],[-0.03,135],[0,145],[0.03,125],[0.06,75],[0.1,25],[0.15,8],[0.25,3],[0.5,2],[0.89,1]],
  [[-0.00305,2],[-0.002,2],[-0.0012,4],[-0.0008,15],[-0.0005,60],[-0.0003,120],[-0.0001,160],[0,165],[0.0001,160],[0.0003,120],[0.0005,60],[0.0008,15],[0.0012,4],[0.0018,2],[0.00243,2]]];

// columns whose few, wide bins show dark outlines
const edgedPlots = [5,13,25,27,42,47,49,51,52,69,72,73,74,97];

// layout of the grid, in page pixels
const AX_W = 103, AX_H = 125;
const AX_L = 75, AX_T = 30, X_AXIS_H = 46, PAD_R = 32;
const COL0 = 66, COL_STEP = 195.8, ROW0 = 32.5, ROW_STEP = 195.9;
const TICK_FONT = 13.9, TITLE_FONT = 16.7;
const FONT_FAMILY = "'DejaVu Sans', sans-serif";

Chart.defaults.font.family = FONT_FAMILY;
Chart.defaults.color = '#000';

const num = s => parseFloat(s.replace('−', '-'));

// width of the widest y tick label, so "Count" sits clear of it like matplotlib's ylabel
const measure = document.createElement('canvas').getContext('2d');
measure.font = TICK_FONT + 'px ' + FONT_FAMILY;
const labelWidth = labels => Math.max(...labels.map(s => measure.measureText(s).width));

const frame = {
  id: 'frame',
  afterDraw(chart) {
    const { ctx, chartArea: a } = chart;
    ctx.save();
    ctx.strokeStyle = '#000';
    ctx.lineWidth = 1;
    ctx.strokeRect(a.left - 0.5, a.top - 0.5, a.width + 1, a.height + 1);
    ctx.restore();
  }
};

const fig = document.getElementById('fig');

titles.forEach((t, i) => {
  const r = Math.floor(i / 10), c = i % 10;
  const cv = document.createElement('canvas');
  const w = AX_L + AX_W + PAD_R, h = AX_T + AX_H + X_AXIS_H;
  cv.width = w; cv.height = h;
  cv.style.width = w + 'px'; cv.style.height = h + 'px';
  cv.style.left = Math.round(COL0 + c * COL_STEP - AX_L) + 'px';
  cv.style.top = Math.round(ROW0 + r * ROW_STEP - AX_T) + 'px';
  fig.appendChild(cv);

  const span = hi[i] - lo[i];
  const xMin = lo[i] - 0.05 * span, xMax = hi[i] + 0.05 * span;
  const bw = binWidth[i];
  const barPx = bw / (xMax - xMin) * AX_W;

  const bars = binCounts[i]
    .map((v, k) => ({ x: binStart[i] + (k + 0.5) * bw, y: v }))
    .concat(extraBins[i].map(([x0, v]) => ({ x: x0 + bw / 2, y: v })))
    .filter(p => p.y > 0);
  const edged = edgedPlots.includes(t);

  const xt = xTickLabels[i], yt = yTickLabels[i];
  // centre of "Count" measured from the axes' left spine
  const ylabelOffset = 10 + labelWidth(yt) + 5.6 + 8.1;
  const ylabelPad = AX_L - ylabelOffset - TICK_FONT * 1.2 / 2;

  new Chart(cv, {
    type: 'line',
    data: {
      datasets: [
        {
          type: 'bar',
          data: bars,
          backgroundColor: edged ? 'rgba(31,119,180,0.5)' : 'rgba(20,75,120,0.6)',
          borderColor: 'rgba(0,0,0,0.75)',
          borderWidth: edged ? Math.min(1, barPx * 0.25) : 0,
          borderSkipped: false,
          barThickness: barPx,
          grouped: false,
          inflateAmount: 0,
          order: 2
        },
        {
          type: 'line',
          data: kdePoints[i].map(([x, y]) => ({ x, y })),
          borderColor: '#1f77b4',
          borderWidth: 2,
          pointRadius: 0,
          fill: false,
          tension: 0.4,
          cubicInterpolationMode: 'monotone',
          order: 1
        }
      ]
    },
    options: {
      responsive: false,
      animation: false,
      events: [],
      layout: { padding: { left: 0, right: PAD_R, top: 0, bottom: 0 } },
      plugins: {
        legend: { display: false },
        tooltip: { enabled: false },
        title: {
          display: true,
          text: String(t),
          fullSize: false,
          font: { size: TITLE_FONT, weight: 'normal' },
          color: '#000',
          padding: { top: 5, bottom: 5 }
        }
      },
      scales: {
        x: {
          type: 'linear',
          min: xMin, max: xMax,
          bounds: 'data',
          offset: false,
          afterBuildTicks: s => { s.ticks = xt.map(v => ({ value: num(v) })); },
          afterFit: s => { s.height = X_AXIS_H; },
          ticks: {
            callback: (v, k) => xt[k],
            autoSkip: false, maxRotation: 0, minRotation: 0,
            padding: 3, font: { size: TICK_FONT }, color: '#000'
          },
          grid: { drawOnChartArea: false, drawTicks: true, tickLength: 5, color: '#000', lineWidth: 1, offset: false },
          border: { display: false },
          title: { display: true, text: String(t), font: { size: TICK_FONT }, color: '#000', padding: { top: 0, bottom: 1.65 } }
        },
        y: {
          type: 'linear',
          min: 0, max: yTop[i],
          bounds: 'data',
          afterBuildTicks: s => { s.ticks = yt.map(v => ({ value: num(v) })); },
          afterFit: s => { s.width = AX_L; },
          ticks: {
            callback: (v, k) => yt[k],
            padding: 5, font: { size: TICK_FONT }, color: '#000'
          },
          grid: { drawOnChartArea: false, drawTicks: true, tickLength: 5, color: '#000', lineWidth: 1 },
          border: { display: false },
          title: { display: true, text: 'Count', font: { size: TICK_FONT }, color: '#000', padding: { top: ylabelPad, bottom: 0 } }
        }
      }
    },
    plugins: [frame]
  });
});
</script>
</body>
</html>
